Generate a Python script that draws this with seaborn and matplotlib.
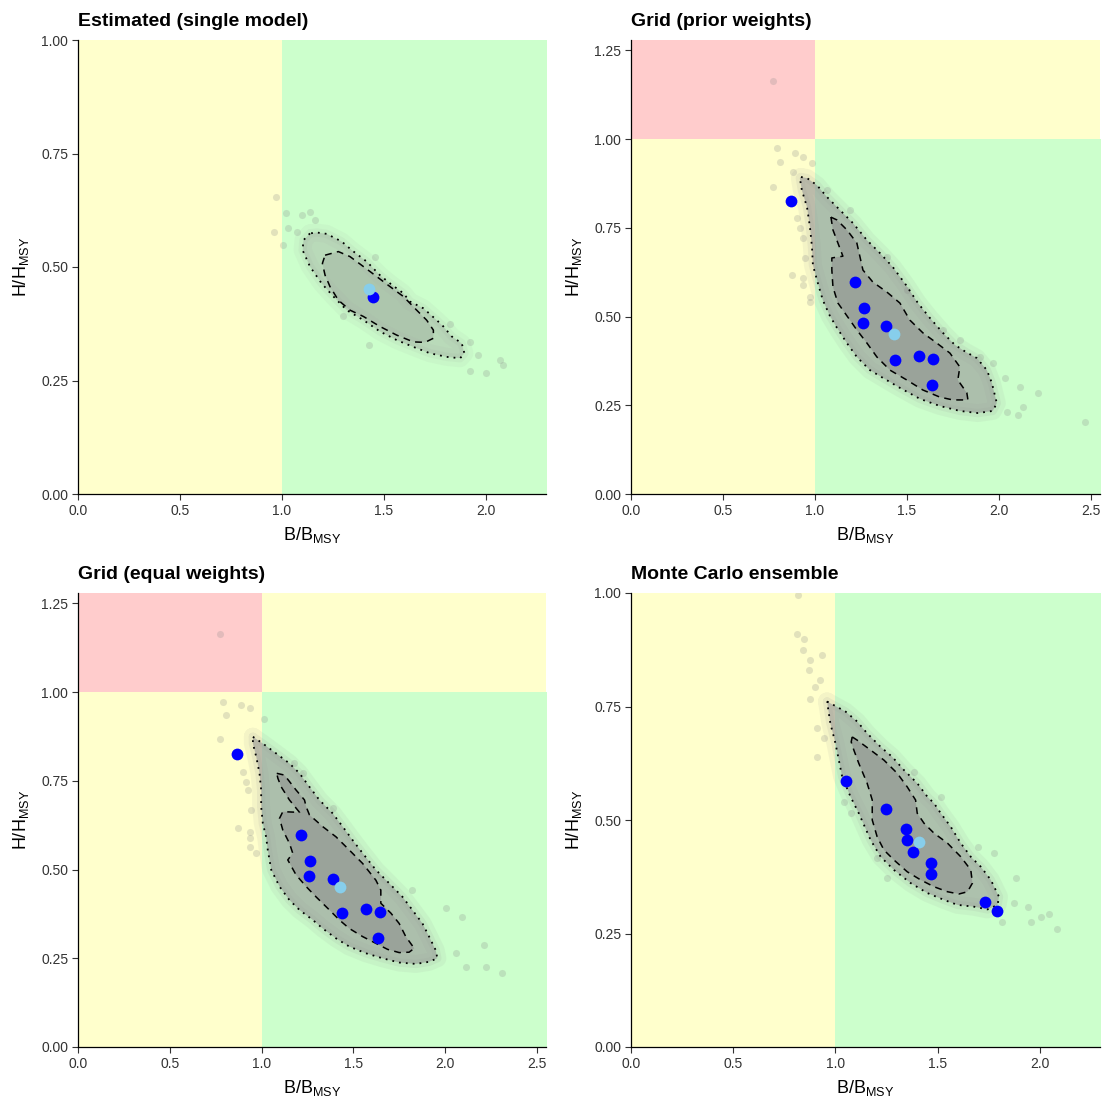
import numpy as np
import pandas as pd
import matplotlib
matplotlib.use("Agg")
import matplotlib.pyplot as plt
import seaborn as sns

# ---------------- data ----------------
titles = ["Estimated (single model)", "Grid (prior weights)",
          "Grid (equal weights)", "Monte Carlo ensemble"]
x_limits = [2.294, 2.55, 2.55, 2.294]
y_limits = [1.0, 1.279, 1.279, 1.0]
x_ticks = [0.0, 0.5, 1.0, 1.5, 2.0]
x_ticks_wide = [0.0, 0.5, 1.0, 1.5, 2.0, 2.5]
y_ticks = [0.0, 0.25, 0.5, 0.75, 1.0]
y_ticks_tall = [0.0, 0.25, 0.5, 0.75, 1.0, 1.25]

# Panel 1: estimated (single model)
est_dot_x = [1.137, 1.105, 1.101, 1.137, 1.194, 1.252, 1.317, 1.399, 1.480, 1.562, 1.644, 1.725, 1.807, 1.873,
             1.894, 1.881, 1.832, 1.791, 1.758, 1.693, 1.627, 1.595, 1.529, 1.480, 1.415, 1.342, 1.293, 1.219, 1.170]
est_dot_y = [0.574, 0.559, 0.537, 0.501, 0.464, 0.435, 0.405, 0.383, 0.358, 0.339, 0.324, 0.310, 0.302, 0.299,
             0.310, 0.332, 0.347, 0.369, 0.383, 0.409, 0.424, 0.442, 0.464, 0.482, 0.512, 0.537, 0.556, 0.573, 0.576]
est_dash_x = [1.211, 1.276, 1.333, 1.399, 1.464, 1.529, 1.595, 1.660, 1.709, 1.742, 1.742, 1.701, 1.644, 1.562,
              1.480, 1.399, 1.333, 1.276, 1.235, 1.211, 1.198]
est_dash_y = [0.526, 0.534, 0.523, 0.501, 0.479, 0.457, 0.435, 0.405, 0.383, 0.361, 0.343, 0.334, 0.335, 0.350,
              0.369, 0.391, 0.405, 0.427, 0.457, 0.482, 0.508]
est_out_x = [0.971, 0.961, 1.003, 1.020, 1.096, 1.137, 1.162, 1.031, 1.072, 1.456, 1.824, 1.922, 1.962, 2.069,
             2.085, 1.922, 2.000, 1.428, 1.301]
est_out_y = [0.655, 0.578, 0.548, 0.618, 0.615, 0.622, 0.604, 0.585, 0.578, 0.523, 0.374, 0.335, 0.306, 0.295,
             0.284, 0.272, 0.266, 0.328, 0.391]
est_pts_x = [1.445]
est_pts_y = [0.433]
est_ref_x = [1.426]
est_ref_y = [0.452]

# Panel 2: grid (prior weights)
gp_dot_x = [0.924, 0.957, 1.011, 1.065, 1.136, 1.207, 1.283, 1.353, 1.424, 1.495, 1.560, 1.625, 1.696, 1.761,
            1.821, 1.880, 1.935, 1.962, 1.989, 1.967, 1.886, 1.788, 1.679, 1.571, 1.462, 1.370, 1.299, 1.228,
            1.174, 1.120, 1.082, 1.043, 1.016, 0.989, 0.984, 0.973, 0.957, 0.929, 0.918]
gp_dot_y = [0.893, 0.890, 0.870, 0.837, 0.800, 0.763, 0.715, 0.679, 0.639, 0.589, 0.538, 0.496, 0.454, 0.420,
            0.400, 0.383, 0.349, 0.313, 0.256, 0.234, 0.228, 0.234, 0.248, 0.268, 0.299, 0.327, 0.349, 0.386,
            0.425, 0.468, 0.501, 0.546, 0.594, 0.645, 0.696, 0.752, 0.808, 0.856, 0.890]
gp_dash_x = [1.087, 1.120, 1.174, 1.228, 1.245, 1.261, 1.315, 1.391, 1.462, 1.516, 1.587, 1.663, 1.734, 1.788,
             1.777, 1.826, 1.832, 1.750, 1.679, 1.587, 1.500, 1.408, 1.337, 1.283, 1.228, 1.163, 1.125, 1.098,
             1.092, 1.092, 1.152, 1.125, 1.098]
gp_dash_y = [0.780, 0.772, 0.744, 0.707, 0.668, 0.631, 0.597, 0.569, 0.538, 0.490, 0.454, 0.425, 0.397, 0.358,
             0.321, 0.285, 0.265, 0.265, 0.273, 0.293, 0.321, 0.349, 0.386, 0.425, 0.462, 0.510, 0.538, 0.583,
             0.631, 0.665, 0.670, 0.707, 0.744]
gp_out_x = [0.792, 0.891, 0.937, 0.810, 0.982, 0.882, 0.773, 0.901, 0.918, 0.936, 0.946, 0.873, 0.936, 0.936,
            0.973, 0.973, 2.033, 2.114, 2.132, 2.214, 2.105, 2.042, 1.897, 1.969, 1.788, 1.697, 1.498, 1.390,
            1.190, 1.064, 2.467, 0.773]
gp_out_y = [0.974, 0.960, 0.950, 0.936, 0.932, 0.908, 0.866, 0.777, 0.748, 0.720, 0.664, 0.617, 0.608, 0.589,
            0.556, 0.542, 0.326, 0.302, 0.246, 0.284, 0.223, 0.232, 0.387, 0.368, 0.434, 0.462, 0.575, 0.668,
            0.800, 0.856, 0.203, 1.163]
grid_pts_x = [0.868, 1.217, 1.265, 1.261, 1.388, 1.437, 1.567, 1.643, 1.634]
grid_pts_y = [0.825, 0.596, 0.523, 0.482, 0.472, 0.378, 0.389, 0.380, 0.308]
grid_ref_x = [1.429]
grid_ref_y = [0.452]

# Panel 3: grid (equal weights)
ge_dot_x = [0.953, 1.007, 1.080, 1.152, 1.207, 1.261, 1.315, 1.388, 1.442, 1.496, 1.551, 1.623, 1.696, 1.768,
            1.822, 1.877, 1.913, 1.949, 1.958, 1.913, 1.841, 1.750, 1.659, 1.569, 1.478, 1.406, 1.333, 1.279,
            1.207, 1.152, 1.098, 1.053, 1.034, 1.025, 1.007, 0.998, 0.998, 0.989, 0.971, 0.953]
ge_dot_y = [0.874, 0.855, 0.827, 0.799, 0.771, 0.733, 0.696, 0.658, 0.621, 0.583, 0.546, 0.499, 0.461, 0.423,
            0.386, 0.348, 0.311, 0.273, 0.250, 0.240, 0.234, 0.238, 0.250, 0.264, 0.283, 0.306, 0.334, 0.358,
            0.386, 0.414, 0.452, 0.499, 0.555, 0.592, 0.630, 0.677, 0.724, 0.771, 0.818, 0.855]
ge_dash_x = [1.083, 1.125, 1.188, 1.234, 1.243, 1.261, 1.333, 1.406, 1.478, 1.551, 1.623, 1.650, 1.650, 1.705,
             1.750, 1.786, 1.832, 1.804, 1.750, 1.687, 1.623, 1.551, 1.478, 1.424, 1.370, 1.297, 1.243, 1.188,
             1.143, 1.170, 1.152, 1.116, 1.098, 1.116, 1.207, 1.152, 1.107, 1.089]
ge_dash_y = [0.771, 0.766, 0.724, 0.696, 0.677, 0.654, 0.621, 0.592, 0.555, 0.517, 0.470, 0.442, 0.405, 0.377,
             0.348, 0.311, 0.278, 0.267, 0.266, 0.275, 0.292, 0.311, 0.334, 0.358, 0.386, 0.423, 0.452, 0.485,
             0.527, 0.546, 0.574, 0.611, 0.644, 0.663, 0.661, 0.696, 0.733, 0.757]
ge_out_x = [0.790, 0.889, 0.808, 0.935, 1.016, 0.772, 0.899, 0.917, 0.926, 0.944, 0.871, 0.935, 0.935, 0.935,
            0.971, 2.004, 2.094, 2.212, 2.221, 2.112, 2.058, 1.822, 1.388, 1.224, 1.179, 2.310, 0.772]
ge_out_y = [0.973, 0.963, 0.935, 0.954, 0.923, 0.867, 0.775, 0.747, 0.724, 0.668, 0.616, 0.606, 0.588, 0.564,
            0.546, 0.391, 0.367, 0.287, 0.226, 0.226, 0.264, 0.442, 0.672, 0.771, 0.799, 0.208, 1.163]

# Panel 4: Monte Carlo ensemble
mc_dot_x = [0.959, 0.992, 1.049, 1.106, 1.155, 1.221, 1.278, 1.335, 1.400, 1.450, 1.482, 1.515, 1.564, 1.613,
            1.662, 1.711, 1.760, 1.800, 1.793, 1.744, 1.678, 1.597, 1.531, 1.450, 1.368, 1.286, 1.221, 1.172,
            1.114, 1.074, 1.033, 1.000, 0.975]
mc_dot_y = [0.761, 0.753, 0.739, 0.717, 0.691, 0.661, 0.639, 0.610, 0.581, 0.551, 0.537, 0.515, 0.485, 0.449,
            0.419, 0.397, 0.368, 0.331, 0.313, 0.303, 0.309, 0.313, 0.324, 0.339, 0.361, 0.390, 0.419, 0.456,
            0.515, 0.551, 0.595, 0.669, 0.713]
mc_dash_x = [1.082, 1.106, 1.172, 1.237, 1.302, 1.351, 1.392, 1.400, 1.433, 1.482, 1.548, 1.613, 1.662, 1.670,
             1.646, 1.604, 1.548, 1.482, 1.417, 1.351, 1.286, 1.237, 1.204, 1.180, 1.180, 1.155, 1.114, 1.090,
             1.077]
mc_dash_y = [0.683, 0.676, 0.654, 0.632, 0.603, 0.573, 0.544, 0.515, 0.493, 0.471, 0.449, 0.419, 0.390, 0.361,
             0.342, 0.337, 0.342, 0.353, 0.368, 0.386, 0.412, 0.434, 0.463, 0.500, 0.544, 0.581, 0.625, 0.654,
             0.672]
mc_out_x = [0.845, 0.842, 0.877, 0.869, 0.935, 0.902, 0.874, 0.926, 0.910, 0.943, 0.910, 1.041, 1.074, 1.204,
            1.253, 1.384, 1.515, 1.695, 1.776, 1.882, 1.940, 2.005, 2.046, 2.083, 1.956, 1.817, 1.874, 0.819,
            0.814]
mc_out_y = [0.898, 0.874, 0.852, 0.830, 0.863, 0.794, 0.767, 0.808, 0.702, 0.680, 0.639, 0.540, 0.515, 0.416,
            0.372, 0.606, 0.551, 0.441, 0.427, 0.372, 0.309, 0.287, 0.293, 0.261, 0.276, 0.276, 0.317, 0.996,
            0.910]
mc_pts_x = [1.052, 1.247, 1.345, 1.351, 1.381, 1.466, 1.466, 1.732, 1.791]
mc_pts_y = [0.587, 0.524, 0.481, 0.455, 0.429, 0.405, 0.380, 0.319, 0.300]
mc_ref_x = [1.410]
mc_ref_y = [0.452]

panels = [
    dict(dot=(est_dot_x, est_dot_y), dash=(est_dash_x, est_dash_y), out=(est_out_x, est_out_y),
         pts=(est_pts_x, est_pts_y), ref=(est_ref_x, est_ref_y), a_out=0.36, a_in=0.25, halo=0.07),
    dict(dot=(gp_dot_x, gp_dot_y), dash=(gp_dash_x, gp_dash_y), out=(gp_out_x, gp_out_y),
         pts=(grid_pts_x, grid_pts_y), ref=(grid_ref_x, grid_ref_y), a_out=0.62, a_in=0.55, halo=0.10),
    dict(dot=(ge_dot_x, ge_dot_y), dash=(ge_dash_x, ge_dash_y), out=(ge_out_x, ge_out_y),
         pts=(grid_pts_x, grid_pts_y), ref=(grid_ref_x, grid_ref_y), a_out=0.62, a_in=0.55, halo=0.10),
    dict(dot=(mc_dot_x, mc_dot_y), dash=(mc_dash_x, mc_dash_y), out=(mc_out_x, mc_out_y),
         pts=(mc_pts_x, mc_pts_y), ref=(mc_ref_x, mc_ref_y), a_out=0.6, a_in=0.55, halo=0.10),
]

# ---------------- style ----------------
sns.set_theme(style="ticks")
plt.rcParams["font.family"] = ["Liberation Sans", "DejaVu Sans"]
plt.rcParams["mathtext.fontset"] = "custom"
plt.rcParams["mathtext.rm"] = "Liberation Sans"
plt.rcParams["mathtext.it"] = "Liberation Sans"

YELLOW = "#FFFFCC"
GREEN = "#CCFFCC"
RED = "#FFCCCC"
CLOUD = "#999999"

fig = plt.figure(figsize=(11.1, 10.98), dpi=100)
positions = [
    [78 / 1110, 1 - 494 / 1098, 468 / 1110, 454 / 1098],
    [631 / 1110, 1 - 494 / 1098, 469 / 1110, 454 / 1098],
    [78 / 1110, 1 - 1047 / 1098, 468 / 1110, 454 / 1098],
    [631 / 1110, 1 - 1047 / 1098, 469 / 1110, 454 / 1098],
]


def closed(xs, ys):
    return list(xs) + [xs[0]], list(ys) + [ys[0]]


for i, p in enumerate(panels):
    ax = fig.add_axes(positions[i])
    xmax, ymax = x_limits[i], y_limits[i]
    # Kobe quadrants
    ax.fill_between([0, 1], 0, 1, color=YELLOW, lw=0, zorder=0)
    ax.fill_between([1, 5], 0, 1, color=GREEN, lw=0, zorder=0)
    ax.fill_between([0, 1], 1, 5, color=RED, lw=0, zorder=0)
    ax.fill_between([1, 5], 1, 5, color=YELLOW, lw=0, zorder=0)

    # sample cloud: halo + density regions
    dx, dy = closed(*p["dot"])
    ax.plot(dx, dy, color=CLOUD, lw=13, alpha=p["halo"], solid_joinstyle="round", zorder=1)
    ax.plot(dx, dy, color=CLOUD, lw=6, alpha=p["halo"] * 1.3, solid_joinstyle="round", zorder=1)
    ax.fill(dx, dy, color=CLOUD, alpha=p["a_out"], lw=0, zorder=1)
    hx, hy = closed(*p["dash"])
    ax.fill(hx, hy, color="#8c8c8c", alpha=p["a_in"], lw=0, zorder=1)

    out = pd.DataFrame({"x": p["out"][0], "y": p["out"][1]})
    sns.scatterplot(data=out, x="x", y="y", ax=ax, color="#8c8c8c", alpha=0.25, s=26,
                    linewidth=0, zorder=2, legend=False)

    # contour lines
    ax.plot(dx, dy, color="black", lw=1.3, linestyle=(0, (1, 2.8)), zorder=3)
    ax.plot(hx, hy, color="black", lw=1.1, linestyle=(0, (4.5, 3.5)), zorder=3)

    pts = pd.DataFrame({"x": p["pts"][0], "y": p["pts"][1]})
    sns.scatterplot(data=pts, x="x", y="y", ax=ax, color="#0000FF", s=72, linewidth=0,
                    zorder=4, legend=False)
    ref = pd.DataFrame({"x": p["ref"][0], "y": p["ref"][1]})
    sns.scatterplot(data=ref, x="x", y="y", ax=ax, color="#87CEEB", s=72, linewidth=0,
                    zorder=4, legend=False)

    ax.set_xlim(0, xmax)
    ax.set_ylim(0, ymax)
    xt = x_ticks if xmax < 2.5 else x_ticks_wide
    yt = y_ticks if ymax < 1.25 else y_ticks_tall
    ax.set_xticks(xt)
    ax.set_xticklabels([f"{v:.1f}" for v in xt])
    ax.set_yticks(yt)
    ax.set_yticklabels([f"{v:.2f}" for v in yt])
    ax.tick_params(axis="both", labelsize=10, colors="#333333", length=4, width=0.8,
                   direction="out", pad=3)
    for s in ["top", "right"]:
        ax.spines[s].set_visible(False)
    for s in ["left", "bottom"]:
        ax.spines[s].set_color("black")
        ax.spines[s].set_linewidth(0.9)
    ax.set_xlabel(r"B/B$_{\mathregular{MSY}}$", fontsize=13, color="black", labelpad=5)
    ax.set_ylabel(r"H/H$_{\mathregular{MSY}}$", fontsize=13, color="black", labelpad=7)
    ax.set_title(titles[i], loc="left", fontsize=14, fontweight="bold", pad=10, color="black")

fig.savefig("out.png", dpi=100)
